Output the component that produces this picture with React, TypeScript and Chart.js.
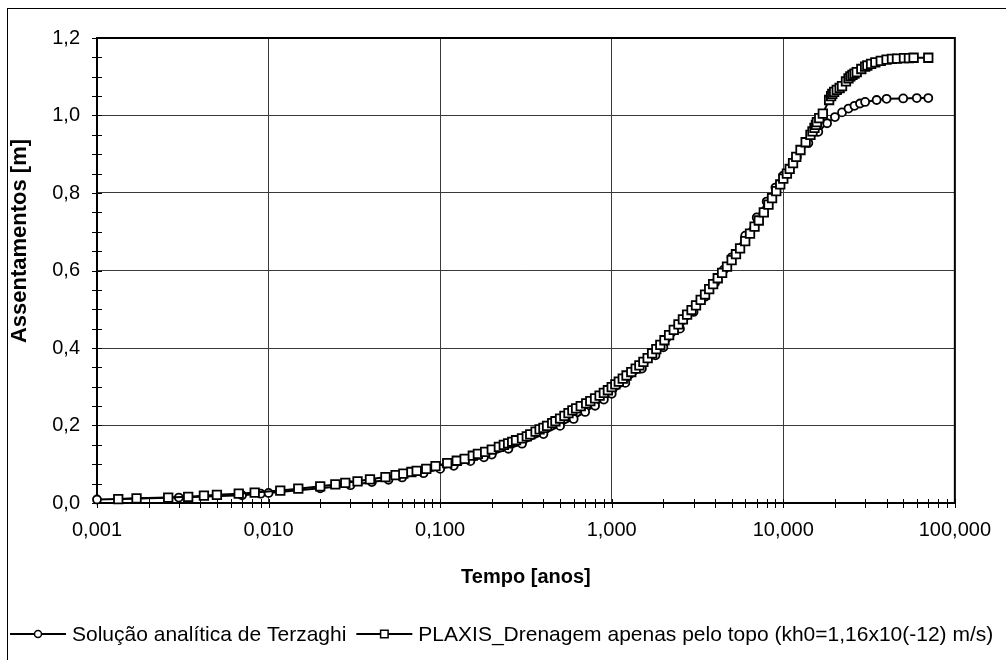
import React, { useEffect, useRef } from 'react';
import { Chart, registerables } from 'chart.js';

Chart.register(...registerables);

// ---- data ----
const terzaghiTime = [
  0.001, 0.003, 0.007, 0.009, 0.01, 0.02, 0.03, 0.04, 0.05, 0.06,
  0.08, 0.1, 0.12, 0.15, 0.18, 0.2, 0.25, 0.3, 0.4, 0.5,
  0.6, 0.7, 0.8, 0.9, 1.0, 1.2, 1.5, 1.8, 2.0, 2.5,
  3.0, 3.5, 4.0, 4.5, 5.0, 6.0, 7.0, 8.0, 9.0, 10,
  12, 14, 16, 18, 20, 22, 24, 26, 28, 30,
  35, 40, 50, 60, 70,
];
const terzaghiSettlement = [
  0.009, 0.014, 0.020, 0.024, 0.026, 0.038, 0.046, 0.054, 0.060, 0.066,
  0.077, 0.088, 0.096, 0.108, 0.118, 0.125, 0.140, 0.153, 0.178, 0.199,
  0.217, 0.235, 0.251, 0.267, 0.282, 0.310, 0.347, 0.381, 0.402, 0.450,
  0.493, 0.532, 0.568, 0.602, 0.634, 0.690, 0.737, 0.778, 0.814, 0.845,
  0.893, 0.929, 0.958, 0.980, 0.996, 1.008, 1.018, 1.025, 1.031, 1.035,
  1.040, 1.043, 1.044, 1.045, 1.045,
];

const plaxisTime = [
  0.00133, 0.0017, 0.0026, 0.0034, 0.0042, 0.005, 0.0067, 0.0083, 0.0117, 0.0149,
  0.02, 0.0245, 0.028, 0.033, 0.039, 0.048, 0.055, 0.061, 0.068, 0.073,
  0.083, 0.094, 0.11, 0.125, 0.139, 0.155, 0.166, 0.183, 0.2, 0.22,
  0.235, 0.249, 0.263, 0.277, 0.3, 0.32, 0.335, 0.36, 0.38, 0.4,
  0.42, 0.45, 0.47, 0.5, 0.53, 0.56, 0.59, 0.62, 0.66, 0.71,
  0.75, 0.8, 0.85, 0.9, 0.95, 1.0, 1.05, 1.1, 1.16, 1.22,
  1.3, 1.38, 1.45, 1.53, 1.62, 1.72, 1.82, 1.92, 2.03, 2.16,
  2.3, 2.45, 2.6, 2.75, 2.92, 3.1, 3.3, 3.5, 3.7, 3.9,
  4.15, 4.4, 4.7, 5.0, 5.3, 5.6, 6.0, 6.4, 6.8, 7.2,
  7.7, 8.2, 8.6, 9.1, 9.6, 10.0, 10.5, 10.9, 11.4, 11.9,
  12.6, 13.5, 14.4, 14.8, 15.2, 15.5, 15.7, 16.2, 17.0, 18.5,
  19.0, 19.3, 19.8, 20.5, 21.3, 22.0, 23.2, 24.0, 24.6, 25.3,
  26.0, 26.8, 28.5, 30.0, 30.9, 32.5, 34.4, 37.0, 40.0, 43.0,
  46.0, 50.5, 54.0, 57.5, 70.0,
];
const plaxisSettlement = [
  0.010, 0.012, 0.014, 0.016, 0.019, 0.021, 0.024, 0.027, 0.032, 0.037,
  0.043, 0.048, 0.052, 0.056, 0.061, 0.067, 0.072, 0.076, 0.080, 0.083,
  0.088, 0.095, 0.103, 0.109, 0.114, 0.122, 0.127, 0.132, 0.138, 0.145,
  0.150, 0.154, 0.158, 0.162, 0.167, 0.172, 0.177, 0.184, 0.190, 0.194,
  0.199, 0.206, 0.211, 0.218, 0.225, 0.232, 0.239, 0.244, 0.250, 0.257,
  0.263, 0.270, 0.277, 0.284, 0.291, 0.299, 0.306, 0.313, 0.321, 0.329,
  0.338, 0.347, 0.355, 0.364, 0.374, 0.386, 0.397, 0.408, 0.420, 0.433,
  0.447, 0.461, 0.474, 0.486, 0.498, 0.510, 0.524, 0.538, 0.552, 0.565,
  0.580, 0.594, 0.610, 0.627, 0.642, 0.657, 0.676, 0.695, 0.713, 0.729,
  0.750, 0.770, 0.787, 0.805, 0.822, 0.837, 0.850, 0.862, 0.877, 0.893,
  0.911, 0.931, 0.950, 0.959, 0.968, 0.976, 0.983, 0.993, 1.005, 1.040,
  1.050, 1.056, 1.061, 1.066, 1.071, 1.076, 1.088, 1.096, 1.101, 1.105,
  1.108, 1.112, 1.120, 1.126, 1.129, 1.133, 1.137, 1.141, 1.144, 1.146,
  1.147, 1.148, 1.148, 1.149, 1.149,
];

const seriesLabels = [
  'Solução analítica de Terzaghi',
  'PLAXIS_Drenagem apenas pelo topo (kh0=1,16x10(-12) m/s)',
];

const xMajorTicks = [0.001, 0.01, 0.1, 1, 10, 100];
const xTickLabels = ['0,001', '0,010', '0,100', '1,000', '10,000', '100,000'];
const yMajorTicks = [0, 0.2, 0.4, 0.6, 0.8, 1.0, 1.2];
const yTickLabels = ['0,0', '0,2', '0,4', '0,6', '0,8', '1,0', '1,2'];
const yMinorStep = 0.05;

const xTitle = 'Tempo [anos]';
const yTitle = 'Assentamentos [m]';

const FONT = '"Liberation Sans", Arial, Helvetica, sans-serif';

function findIndex(list: number[], v: number) {
  return list.findIndex((m) => Math.abs(m - v) <= Math.abs(m) * 1e-6 + 1e-9);
}

function drawMarker(ctx: CanvasRenderingContext2D, kind: number, x: number, y: number) {
  ctx.fillStyle = '#fff';
  ctx.strokeStyle = '#000';
  ctx.lineWidth = 1.5;
  ctx.beginPath();
  if (kind === 0) {
    ctx.arc(x, y, 3.5, 0, Math.PI * 2);
  } else {
    ctx.rect(x - 3.75, y - 3.75, 7.5, 7.5);
  }
  ctx.fill();
  ctx.stroke();
}

const framePlugin = {
  id: 'frameAndCrossTicks',
  beforeDatasetsDraw(chart: any) {
    const { ctx, chartArea: a, scales } = chart;
    const xs = scales.x;
    const ys = scales.y;
    ctx.save();
    ctx.strokeStyle = '#000';
    ctx.lineWidth = 1;
    ctx.beginPath();
    xs.ticks.forEach((t: any) => {
      const px = Math.round(xs.getPixelForValue(t.value)) + 0.5;
      ctx.moveTo(px, a.bottom - 4);
      ctx.lineTo(px, a.bottom + 5);
    });
    ys.ticks.forEach((t: any) => {
      const py = Math.round(ys.getPixelForValue(t.value)) + 0.5;
      ctx.moveTo(a.left - 5, py);
      ctx.lineTo(a.left + 5, py);
    });
    ctx.stroke();
    ctx.lineWidth = 2;
    ctx.strokeRect(a.left, a.top, a.right - a.left, a.bottom - a.top);
    ctx.restore();
  },
};

const textPlugin = {
  id: 'legendAndYTitle',
  afterDraw(chart: any) {
    const ctx: CanvasRenderingContext2D = chart.ctx;
    ctx.save();
    // vertical axis title
    ctx.save();
    ctx.translate(12, 232);
    ctx.rotate(-Math.PI / 2);
    ctx.font = 'bold 22px ' + FONT;
    ctx.fillStyle = '#000';
    ctx.textAlign = 'center';
    ctx.textBaseline = 'middle';
    ctx.fillText(yTitle, 0, 0);
    ctx.restore();

    // legend: line + marker, then label
    ctx.font = '21px ' + FONT;
    ctx.textBaseline = 'middle';
    ctx.textAlign = 'left';
    const cy = 625;
    let cx = 2;
    seriesLabels.forEach((label, i) => {
      ctx.strokeStyle = '#000';
      ctx.lineWidth = 2;
      ctx.beginPath();
      ctx.moveTo(cx, cy);
      ctx.lineTo(cx + 56, cy);
      ctx.stroke();
      drawMarker(ctx, i, cx + 28, cy);
      ctx.fillStyle = '#000';
      ctx.fillText(label, cx + 62, cy + 1);
      cx += 62 + ctx.measureText(label).width + 10;
    });
    ctx.restore();
  },
};

export default function App() {
  const canvasRef = useRef<HTMLCanvasElement | null>(null);

  useEffect(() => {
    if (!canvasRef.current) return;
    Chart.defaults.font.family = FONT;
    Chart.defaults.color = '#000';

    const terzaghiData = terzaghiTime.map((t, i) => ({ x: t, y: terzaghiSettlement[i] }));
    const plaxisData = plaxisTime.map((t, i) => ({ x: t, y: plaxisSettlement[i] }));

    const chart = new Chart(canvasRef.current, {
      type: 'scatter',
      data: {
        datasets: [
          {
            label: seriesLabels[0],
            data: terzaghiData,
            showLine: true,
            borderColor: '#000',
            borderWidth: 2,
            pointStyle: 'circle',
            pointRadius: 4,
            pointBorderWidth: 1.8,
            pointBackgroundColor: '#fff',
            pointBorderColor: '#000',
            order: 1,
            clip: false,
          },
          {
            label: seriesLabels[1],
            data: plaxisData,
            showLine: true,
            borderColor: '#000',
            borderWidth: 2,
            pointStyle: 'rect',
            pointRadius: 6,
            pointBorderWidth: 1.8,
            pointBackgroundColor: '#fff',
            pointBorderColor: '#000',
            order: 0,
            clip: false,
          },
        ],
      },
      options: {
        animation: false,
        responsive: false,
        devicePixelRatio: 1,
        events: [],
        layout: { padding: { top: 12, right: 0, bottom: 71, left: 0 } },
        plugins: {
          legend: { display: false },
          tooltip: { enabled: false },
        },
        scales: {
          x: {
            type: 'logarithmic',
            position: 'bottom',
            min: xMajorTicks[0],
            max: xMajorTicks[xMajorTicks.length - 1],
            afterBuildTicks: (scale: any) => {
              const ticks: any[] = [];
              xMajorTicks.forEach((base, d) => {
                ticks.push({ value: base, major: true });
                if (d < xMajorTicks.length - 1) {
                  for (let m = 2; m <= 9; m++) ticks.push({ value: base * m, major: false });
                }
              });
              scale.ticks = ticks;
            },
            afterFit: (scale: any) => {
              scale.height = 86;
            },
            ticks: {
              autoSkip: false,
              maxRotation: 0,
              padding: 15,
              font: { size: 20 },
              color: '#000',
              callback: (value: any) => {
                const i = findIndex(xMajorTicks, Number(value));
                return i >= 0 ? xTickLabels[i] : '';
              },
            },
            grid: {
              drawTicks: false,
              lineWidth: 1,
              color: (c: any) =>
                c.tick && findIndex(xMajorTicks, c.tick.value) >= 0 ? '#3a3a3a' : 'rgba(0,0,0,0)',
            },
            border: { display: false },
            title: {
              display: true,
              text: xTitle,
              color: '#000',
              font: { size: 20, weight: 'bold' },
              padding: { top: 0, bottom: 0 },
            },
          },
          y: {
            type: 'linear',
            position: 'left',
            min: yMajorTicks[0],
            max: yMajorTicks[yMajorTicks.length - 1],
            afterBuildTicks: (scale: any) => {
              const ticks: any[] = [];
              const n = Math.round((yMajorTicks[yMajorTicks.length - 1] - yMajorTicks[0]) / yMinorStep);
              for (let i = 0; i <= n; i++) {
                const v = Math.round((yMajorTicks[0] + i * yMinorStep) * 1000) / 1000;
                ticks.push({ value: v, major: findIndex(yMajorTicks, v) >= 0 });
              }
              scale.ticks = ticks;
            },
            afterFit: (scale: any) => {
              scale.width = 89;
            },
            ticks: {
              autoSkip: false,
              padding: 17,
              font: { size: 20 },
              color: '#000',
              callback: (value: any) => {
                const i = findIndex(yMajorTicks, Number(value));
                return i >= 0 ? yTickLabels[i] : '';
              },
            },
            grid: {
              drawTicks: false,
              lineWidth: 1,
              color: (c: any) =>
                c.tick && findIndex(yMajorTicks, c.tick.value) >= 0 ? '#3a3a3a' : 'rgba(0,0,0,0)',
            },
            border: { display: false },
            title: { display: false },
          },
          y2: {
            type: 'linear',
            position: 'right',
            display: true,
            ticks: { display: false },
            grid: { display: false, drawOnChartArea: false },
            border: { display: false },
            afterFit: (scale: any) => {
              scale.width = 51;
            },
          },
        },
      } as any,
      plugins: [framePlugin, textPlugin],
    });

    return () => {
      chart.destroy();
    };
  }, []);

  return (
    <div
      style={{
        position: 'fixed',
        left: 7,
        top: 8,
        width: 1010,
        height: 662,
        border: '1px solid #000',
        boxSizing: 'border-box',
        background: '#fff',
      }}
    >
      <canvas ref={canvasRef} width={998} height={651} style={{ display: 'block', width: 998, height: 651 }} />
    </div>
  );
}
